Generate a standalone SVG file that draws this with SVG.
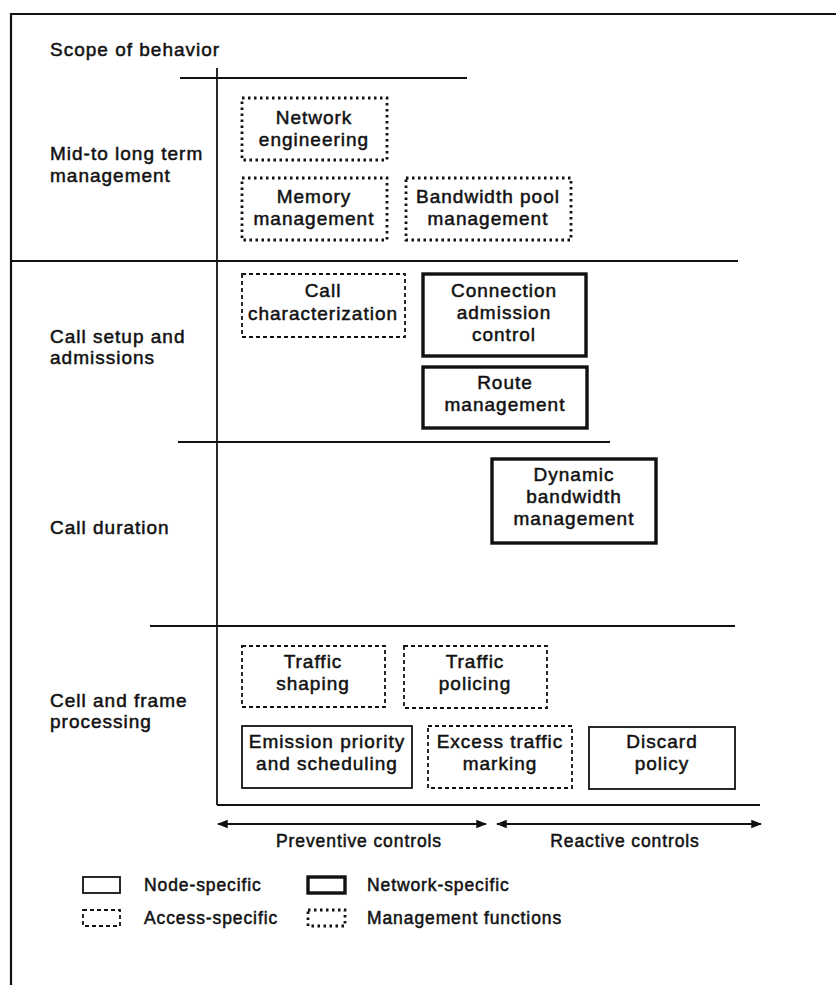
<svg xmlns="http://www.w3.org/2000/svg" width="836" height="985" viewBox="0 0 836 985">
  <style>
    text { font-family: "Liberation Sans", Arial, sans-serif; font-size: 19px; fill: #111; stroke: #111; stroke-width: 0.5; letter-spacing: 1px; }
    .c { text-anchor: middle; }
    .sm { font-size: 17.5px; letter-spacing: 0.9px; }
    .rule { stroke: #111; stroke-width: 1.8; fill: none; }
    .node { fill: none; stroke: #111; stroke-width: 1.8; }
    .net { fill: none; stroke: #111; stroke-width: 3.4; }
    .acc { fill: none; stroke: #111; stroke-width: 1.8; stroke-dasharray: 4 3; }
    .mgmt { fill: none; stroke: #111; stroke-width: 2.8; stroke-dasharray: 2.5 3.5; }
  </style>
  <defs>
    <marker id="ah" viewBox="0 0 10 10" refX="9" refY="5" markerWidth="6" markerHeight="6" orient="auto-start-reverse">
      <path d="M0,1 L10,5 L0,9 Z" fill="#111"/>
    </marker>
  </defs>
  <rect width="836" height="985" fill="#fff"/>

  <!-- page frame -->
  <path d="M11,985 V14 H836" fill="none" stroke="#111" stroke-width="2.2"/>

  <!-- axes and row separators -->
  <g id="grid">
    <text x="50" y="56">Scope of behavior</text>
    <line class="rule" x1="180" y1="78" x2="467" y2="78"/>
    <line class="rule" x1="217" y1="68" x2="217" y2="805"/>
    <line class="rule" x1="11" y1="261" x2="738" y2="261"/>
    <line class="rule" x1="178" y1="442" x2="610" y2="442"/>
    <line class="rule" x1="150" y1="626" x2="735" y2="626"/>
    <line class="rule" x1="217" y1="805" x2="760" y2="805"/>
  </g>

  <!-- row labels -->
  <g id="row-labels">
    <text x="50" y="160">Mid-to long term</text>
    <text x="50" y="182">management</text>
    <text x="50" y="343">Call setup and</text>
    <text x="50" y="364">admissions</text>
    <text x="50" y="534">Call duration</text>
    <text x="50" y="707">Cell and frame</text>
    <text x="50" y="728">processing</text>
  </g>

  <!-- control ranges -->
  <g id="connectors">
    <line class="rule" x1="218" y1="824" x2="486" y2="824" marker-start="url(#ah)" marker-end="url(#ah)"/>
    <line class="rule" x1="497" y1="824" x2="761" y2="824" marker-start="url(#ah)" marker-end="url(#ah)"/>
  </g>
  <text class="c sm" x="359" y="847">Preventive controls</text>
  <text class="c sm" x="625" y="847">Reactive controls</text>

  <!-- mid- to long-term management -->
  <g id="network-engineering">
    <rect class="mgmt" x="242" y="98" width="145" height="62"/>
    <text class="c" x="314" y="124">Network</text>
    <text class="c" x="314" y="146">engineering</text>
  </g>
  <g id="memory-management">
    <rect class="mgmt" x="242" y="178" width="145" height="62"/>
    <text class="c" x="314" y="203">Memory</text>
    <text class="c" x="314" y="225">management</text>
  </g>
  <g id="bandwidth-pool-management">
    <rect class="mgmt" x="406" y="178" width="165" height="62"/>
    <text class="c" x="488" y="203">Bandwidth pool</text>
    <text class="c" x="488" y="225">management</text>
  </g>

  <!-- call setup and admissions -->
  <g id="call-characterization">
    <rect class="acc" x="242" y="274" width="163" height="63"/>
    <text class="c" x="323" y="297">Call</text>
    <text class="c" x="323" y="320">characterization</text>
  </g>
  <g id="connection-admission-control">
    <rect class="net" x="423" y="274" width="163" height="82"/>
    <text class="c" x="504" y="297">Connection</text>
    <text class="c" x="504" y="319">admission</text>
    <text class="c" x="504" y="341">control</text>
  </g>
  <g id="route-management">
    <rect class="net" x="423" y="367" width="164" height="61"/>
    <text class="c" x="505" y="389">Route</text>
    <text class="c" x="505" y="411">management</text>
  </g>

  <!-- call duration -->
  <g id="dynamic-bandwidth-management">
    <rect class="net" x="492" y="459" width="164" height="84"/>
    <text class="c" x="574" y="481">Dynamic</text>
    <text class="c" x="574" y="503">bandwidth</text>
    <text class="c" x="574" y="525">management</text>
  </g>

  <!-- cell and frame processing -->
  <g id="traffic-shaping">
    <rect class="acc" x="242" y="646" width="143" height="61"/>
    <text class="c" x="313" y="668">Traffic</text>
    <text class="c" x="313" y="690">shaping</text>
  </g>
  <g id="traffic-policing">
    <rect class="acc" x="404" y="646" width="143" height="62"/>
    <text class="c" x="475" y="668">Traffic</text>
    <text class="c" x="475" y="690">policing</text>
  </g>
  <g id="emission-priority">
    <rect class="node" x="242" y="726" width="170" height="62"/>
    <text class="c" x="327" y="748">Emission priority</text>
    <text class="c" x="327" y="770">and scheduling</text>
  </g>
  <g id="excess-traffic-marking">
    <rect class="acc" x="428" y="726" width="144" height="62"/>
    <text class="c" x="500" y="748">Excess traffic</text>
    <text class="c" x="500" y="770">marking</text>
  </g>
  <g id="discard-policy">
    <rect class="node" x="589" y="727" width="146" height="62"/>
    <text class="c" x="662" y="748">Discard</text>
    <text class="c" x="662" y="770">policy</text>
  </g>

  <!-- key -->
  <g id="legend">
    <rect class="node" x="83" y="877" width="37" height="16"/>
    <text class="sm" x="144" y="891">Node-specific</text>
    <rect class="net" x="308" y="877" width="37" height="16"/>
    <text class="sm" x="367" y="891">Network-specific</text>
    <rect class="acc" x="83" y="910" width="37" height="16"/>
    <text class="sm" x="144" y="924">Access-specific</text>
    <rect class="mgmt" x="308" y="910" width="37" height="16"/>
    <text class="sm" x="367" y="924">Management functions</text>
  </g>
</svg>
